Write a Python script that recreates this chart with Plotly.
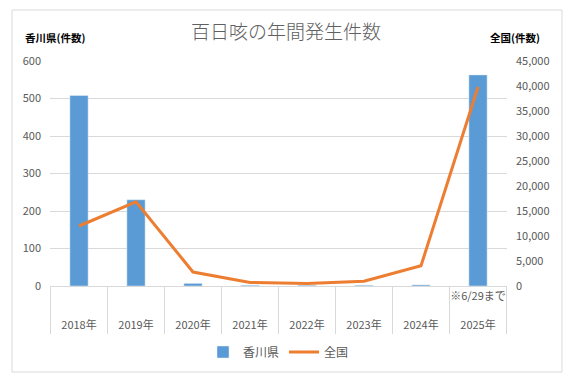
import plotly.graph_objects as go

years = ["2018年", "2019年", "2020年", "2021年", "2022年", "2023年", "2024年", "2025年"]
sub_labels = ["", "", "", "", "", "", "", "※6/29まで"]
kagawa = [508, 230, 7, 2, 2, 2, 3, 563]
national = [12000, 16850, 2794, 705, 499, 950, 4054, 39800]

FONT = "Noto Sans CJK JP"
GREY = "#595959"
GRID = "#d9d9d9"

ticktext = [f"{s if s else ' '}<br><br>{y}" for y, s in zip(years, sub_labels)]

fig = go.Figure()
fig.add_trace(go.Bar(x=years, y=kagawa, name="香川県", marker_color="#5B9BD5",
                     width=0.32, yaxis="y"))
fig.add_trace(go.Scatter(x=years, y=national, name="全国", mode="lines",
                         line=dict(color="#ED7D31", width=3), yaxis="y2"))

L, R, T, B = 50, 65, 61, 104
W, H = 572, 390
pw, ph = W - L - R, H - T - B

fig.update_layout(
    width=W, height=H,
    margin=dict(l=L, r=R, t=T, b=B, autoexpand=False),
    paper_bgcolor="white", plot_bgcolor="white",
    font=dict(family=FONT, size=11, color=GREY),
    title=dict(text="百日咳の年間発生件数", x=0.5, xanchor="center",
               y=1 - 32 / H, yanchor="middle", yref="container",
               font=dict(size=19, color="#606060", family=FONT, weight=300)),
    xaxis=dict(type="category", categoryorder="array", categoryarray=years,
               tickmode="array", tickvals=years, ticktext=ticktext,
               showline=True, linecolor=GRID, linewidth=1, ticks="",
               showgrid=False, tickfont=dict(size=11, color=GREY)),
    yaxis=dict(range=[0, 600], dtick=100, showgrid=True, gridcolor=GRID,
               zeroline=False, ticks="", ticklabelstandoff=8,
               tickfont=dict(size=11, color=GREY)),
    yaxis2=dict(range=[0, 45000], dtick=5000, overlaying="y", side="right",
                showgrid=False, zeroline=False, tickformat=",", ticks="",
                ticklabelstandoff=8, tickfont=dict(size=11, color=GREY)),
    legend=dict(orientation="h", x=0.5, xanchor="center",
                y=(286 - 352) / ph, yanchor="middle",
                font=dict(size=12, color=GREY), itemwidth=30),
    showlegend=True,
)

# category divider lines under axis
shapes = []
for i in range(len(years) + 1):
    shapes.append(dict(type="line", xref="x", yref="paper",
                       x0=i - 0.5, x1=i - 0.5, y0=0, y1=-48 / ph,
                       line=dict(color=GRID, width=1)))
# chart border
shapes.append(dict(type="rect", xref="paper", yref="paper",
                   x0=(12 - L) / pw, x1=(562 - L) / pw,
                   y0=(286 - 372) / ph, y1=(286 - 10) / ph,
                   line=dict(color=GRID, width=1), layer="below"))
fig.update_layout(shapes=shapes)

fig.add_annotation(text="<b>香川県(件数)</b>", xref="paper", yref="paper",
                   x=(23 - L) / pw, y=(286 - 37) / ph, xanchor="left", yanchor="middle",
                   showarrow=False, font=dict(size=10.5, color="#000000", family=FONT))
fig.add_annotation(text="<b>全国(件数)</b>", xref="paper", yref="paper",
                   x=(488 - L) / pw, y=(286 - 37) / ph, xanchor="left", yanchor="middle",
                   showarrow=False, font=dict(size=10.5, color="#000000", family=FONT))

fig.write_html("out.html", config={"displayModeBar": False},
               post_script="document.body.style.margin='0';")
